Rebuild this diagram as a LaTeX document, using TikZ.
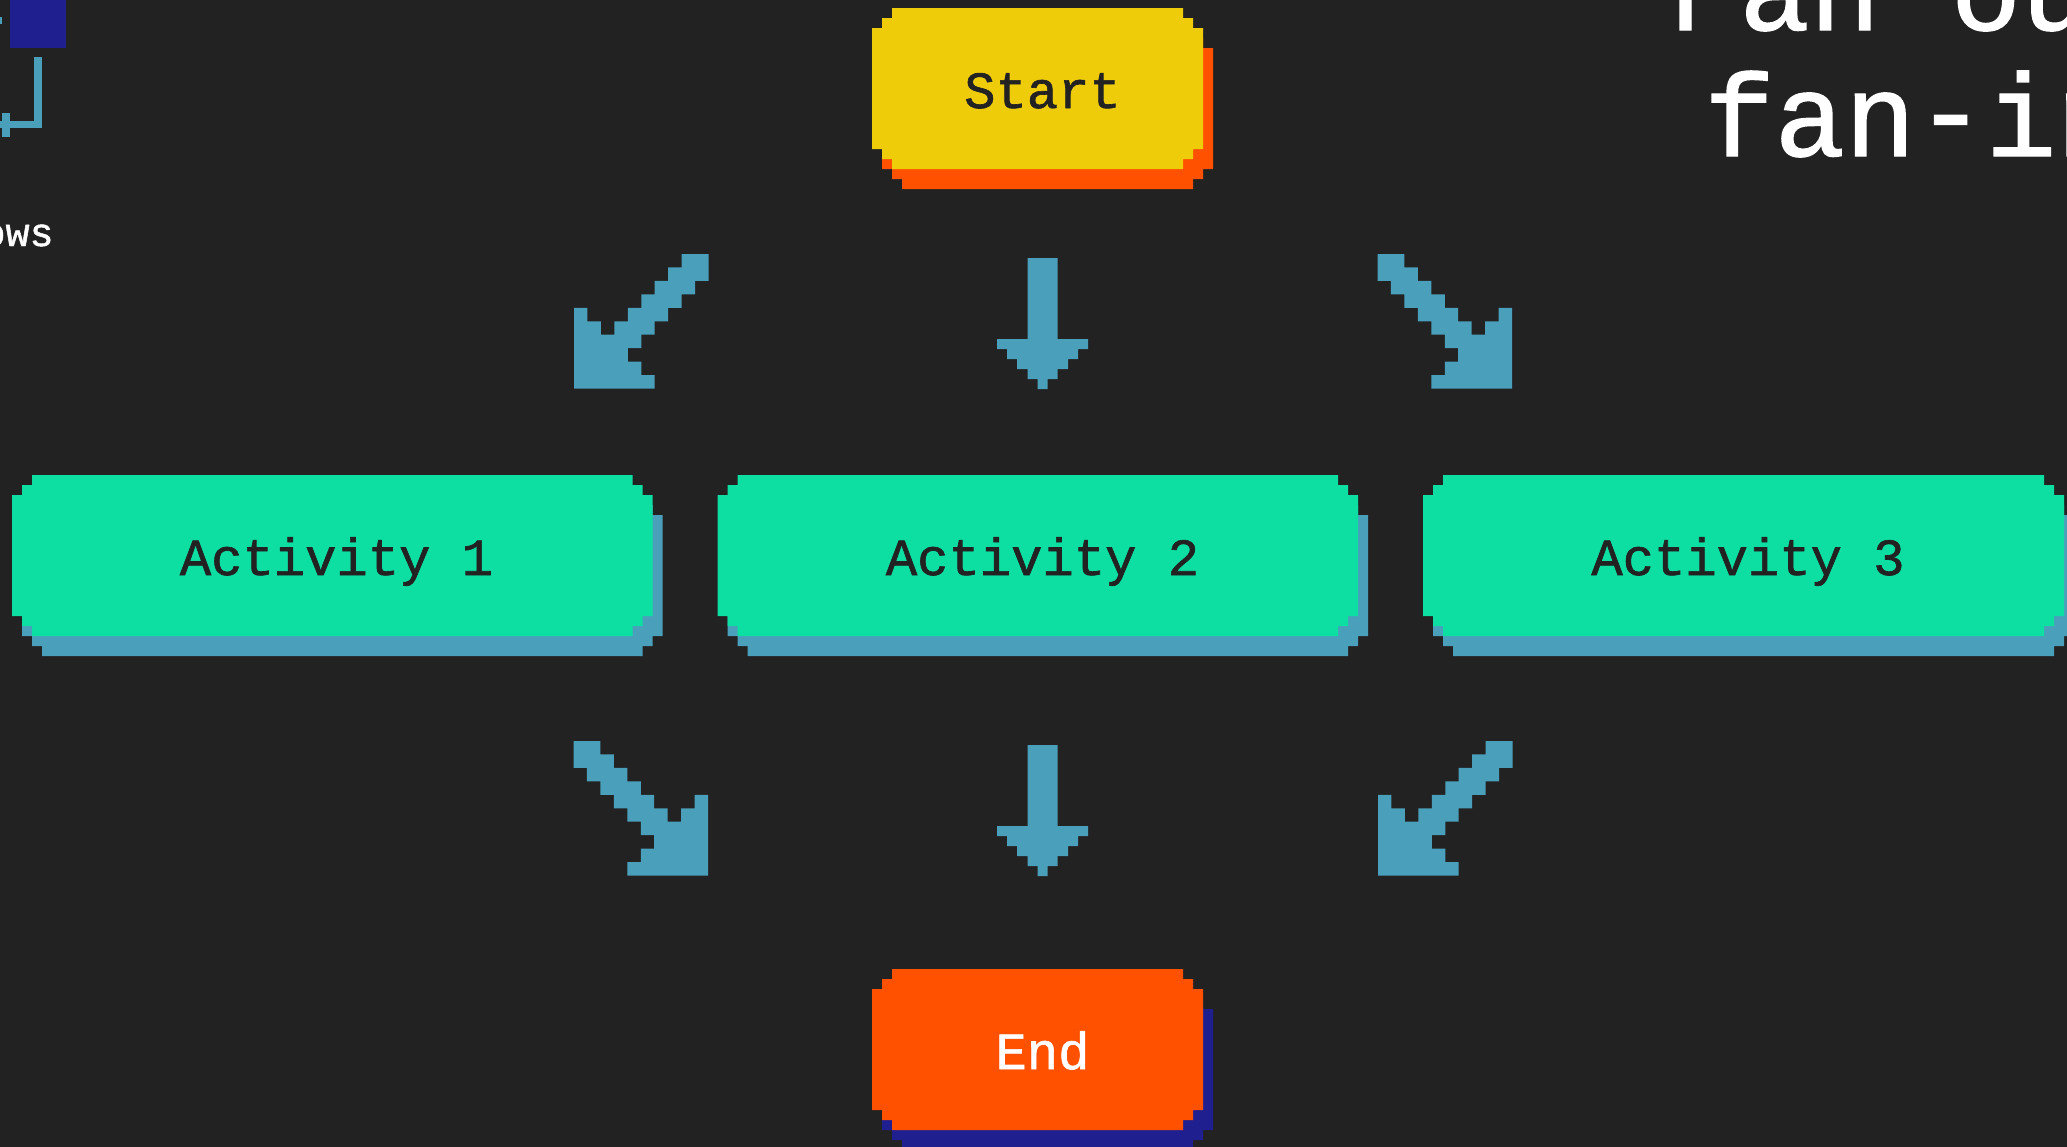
\documentclass[tikz,border=0pt]{standalone}
\usepackage{fontspec}
\newfontfamily\pixmono[FakeBold=1.2]{Liberation Mono}
\definecolor{bgdark}{HTML}{222222}
\definecolor{pixyellow}{HTML}{EFCC0A}
\definecolor{pixgreen}{HTML}{0DDFA3}
\definecolor{pixorange}{HTML}{FF5100}
\definecolor{pixnavy}{HTML}{201F90}
\definecolor{pixteal}{HTML}{4A9FBA}
\tikzset{
  boxlabel/.style={anchor=base,inner sep=0pt,font=\pixmono\fontsize{26.1}{30}\selectfont},
  titlelabel/.style={anchor=base,inner sep=0pt,font=\pixmono\fontsize{58.7}{62}\selectfont,text=white},
  smalllabel/.style={anchor=base east,inner sep=0pt,font=\pixmono\fontsize{20}{22}\selectfont,text=white},
  blockarrow/.style={fill=pixteal}
}
% x y w h colour
\newcommand{\pixshape}[5]{%
  \fill[#5,shift={(#1,#2)}] (20,0) -- ({#3-20},0) -- ({#3-20},10) -- ({#3-10},10) -- ({#3-10},20) -- (#3,20)
    -- (#3,{#4-20}) -- ({#3-10},{#4-20}) -- ({#3-10},{#4-10}) -- ({#3-20},{#4-10}) -- ({#3-20},#4)
    -- (20,#4) -- (20,{#4-10}) -- (10,{#4-10}) -- (10,{#4-20}) -- (0,{#4-20}) -- (0,20) -- (10,20) -- (10,10) -- (20,10) -- cycle;}
\newcommand{\pixbox}[6]{\pixshape{#1+10}{#2+20}{#3}{#4}{#6}\pixshape{#1}{#2}{#3}{#4}{#5}}
\newcommand{\pixdown}[2]{%
  \fill[blockarrow,shift={(#1,#2)}] (-15,0) -- (15,0) -- (15,81) -- (45.5,81) -- (45.5,91) -- (35.5,91) -- (35.5,101)
   -- (25.5,101) -- (25.5,111) -- (15,111) -- (15,121) -- (5,121) -- (5,131) -- (-5,131) -- (-5,121) -- (-15,121)
   -- (-15,111) -- (-25.5,111) -- (-25.5,101) -- (-35.5,101) -- (-35.5,91) -- (-45.5,91) -- (-45.5,81) -- (-15,81) -- cycle;}
\newcommand{\pixdiag}[3]{%
  \fill[blockarrow,shift={(#1,#2)},#3,scale=13.45] (8,0) -- (10,0) -- (10,2) -- (9,2) -- (9,3) -- (8,3) -- (8,4) -- (7,4) -- (7,5)
   -- (6,5) -- (6,6) -- (5,6) -- (5,7) -- (4,7) -- (4,8) -- (5,8) -- (5,9) -- (6,9) -- (6,10) -- (0,10) -- (0,4) -- (1,4)
   -- (1,5) -- (2,5) -- (2,6) -- (3,6) -- (3,5) -- (4,5) -- (4,4) -- (5,4) -- (5,3) -- (6,3) -- (6,2) -- (7,2) -- (7,1) -- (8,1) -- cycle;}
\begin{document}
\begin{tikzpicture}[x=0.5pt,y=-0.5pt]
\useasboundingbox (0,0) rectangle (2067,1146.9);
\clip (-2,-2) rectangle (2069,1149);
\fill[bgdark] (-2,-2) rectangle (2069,1149);
% fragments of a neighbouring panel
\fill[pixnavy] (10,-10) rectangle (66,48);
\fill[pixteal] (-5,17) rectangle (2,24);
\fill[pixteal] (34,57) rectangle (42,128);
\fill[pixteal] (-5,121) rectangle (42,128);
\fill[pixteal] (2,113) rectangle (10,137);
\node[smalllabel] (arrowslabel) at (54,246) {ows};
% title
\node[titlelabel] (titleone) at (1915.5,30) {Fan\raisebox{2.5pt}{-}out};
\node[titlelabel] (titletwo) at (1915.5,156) {fan\raisebox{2.5pt}{-}in};
% boxes
\pixbox{872}{8}{331}{161}{pixyellow}{pixorange}
\pixbox{12}{475}{640.5}{161}{pixgreen}{pixteal}
\pixbox{717.5}{475}{640.5}{161}{pixgreen}{pixteal}
\pixbox{1423}{475}{641}{161}{pixgreen}{pixteal}
\pixbox{872}{969}{331}{161}{pixorange}{pixnavy}
\node[boxlabel,text=bgdark] (start) at (1042.5,108) {Start};
\node[boxlabel,text=bgdark] (act1) at (336.5,575) {Activity 1};
\node[boxlabel,text=bgdark] (act2) at (1042.5,575) {Activity 2};
\node[boxlabel,text=bgdark] (act3) at (1748,575) {Activity 3};
\node[boxlabel,text=white] (end) at (1042.5,1069) {End};
% arrows
\pixdiag{574}{254}{}
\pixdown{1042.5}{258}
\pixdiag{1512}{254}{xscale=-1}
\pixdiag{708}{741}{xscale=-1}
\pixdown{1042.5}{745}
\pixdiag{1378}{741}{}
\end{tikzpicture}
\end{document}
